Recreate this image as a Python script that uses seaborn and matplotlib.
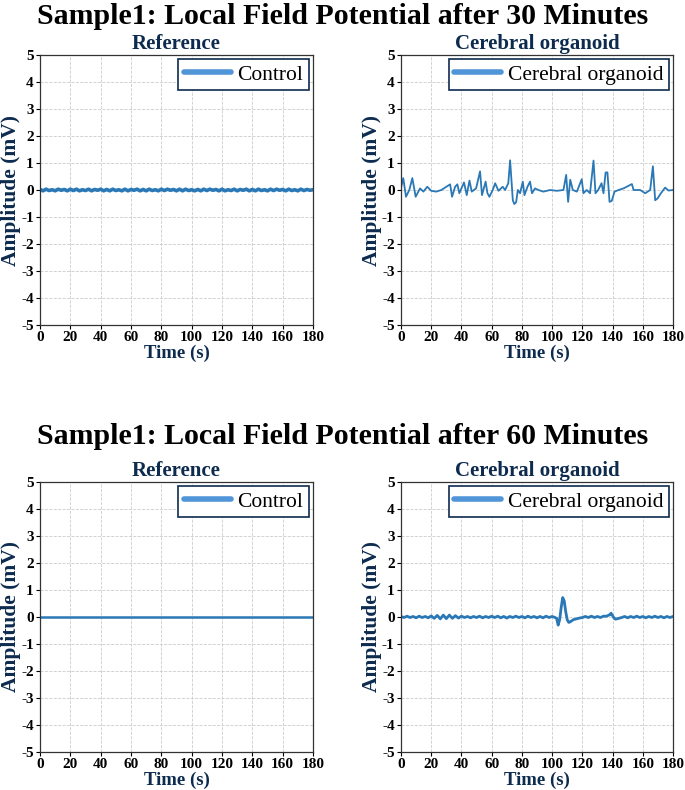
import numpy as np
import pandas as pd
import matplotlib.pyplot as plt
import seaborn as sns
from matplotlib.lines import Line2D

# ---- data ----
# 30 minutes, control (reference electrode), 2 s sampling
ctrl30_time = np.arange(0, 181, 2)
ctrl30_amp = [0.02, -0.03, 0.03, -0.02, 0.01, -0.03, 0.03, -0.01, 0.02, -0.03,
              0.03, -0.02, 0.03, -0.03, 0.01, -0.02, 0.03, -0.03, 0.02, -0.01,
              0.03, -0.03, 0.02, -0.03, 0.03, -0.02, 0.01, -0.03, 0.03, -0.03,
              0.02, -0.01, 0.03, -0.03, 0.02, -0.03, 0.03, -0.02, 0.01, -0.03,
              0.03, -0.02, 0.03, -0.01, 0.02, -0.03, 0.03, -0.03, 0.03, -0.02,
              0.01, -0.03, 0.02, -0.03, 0.03, -0.02, 0.03, -0.01, 0.02, -0.03,
              0.03, -0.03, 0.01, -0.02, 0.03, -0.03, 0.02, -0.01, 0.03, -0.03,
              0.02, -0.03, 0.03, -0.02, 0.01, -0.03, 0.03, -0.02, 0.03, -0.01,
              0.02, -0.03, 0.03, -0.02, 0.01, -0.03, 0.03, -0.02, 0.02, -0.01,
              0.01]

# 30 minutes, cerebral organoid
org30_time = [0, 1.5, 3.3, 5.5, 7.5, 9.7, 12.6, 14.8, 17.4, 20, 23.3, 26.7,
              32.5, 33.8, 35.8, 37.3, 38.6, 41.7, 43.5, 45.3, 46.8, 49.7,
              52.3, 53.6, 56, 57.2, 58.5, 60.7, 62.3, 64.5, 67.3, 68.9, 71,
              72.2, 74, 75, 76.2, 77.3, 78.8, 80.6, 81.7, 83.7, 85.4, 86.7,
              88.7, 90.9, 94.2, 98.7, 103.1, 107.5, 109.3, 110.6, 112, 113.7,
              116.4, 119.6, 120.7, 122.9, 125.1, 127.4, 128.7, 130.5, 132.7,
              134, 135.4, 136.6, 138, 139.5, 141.3, 144, 147.3, 152.8, 153.9,
              158.3, 161.6, 164.9, 166.7, 168.2, 169.8, 172, 174.8, 177, 180]
org30_amp = [0.08, 0.44, -0.25, 0.0, 0.44, -0.25, 0.06, -0.06, 0.12, -0.03,
             -0.06, 0.0, 0.21, -0.25, 0.12, 0.21, -0.12, 0.28, -0.19, 0.35,
             -0.06, 0.06, 0.69, -0.19, 0.31, -0.12, -0.25, 0.0, 0.25, -0.03,
             0.12, 0.0, 0.25, 1.1, -0.38, -0.52, -0.45, 0.0, -0.12, 0.31,
             -0.19, 0.12, 0.31, -0.12, 0.06, 0.0, -0.06, 0.0, -0.03, 0.0,
             0.56, -0.44, 0.38, 0.0, -0.06, 0.4, -0.12, 0.0, -0.12, 1.09,
             -0.12, 0.0, 0.25, -0.12, 0.65, 0.65, -0.44, -0.40, -0.06, 0.0,
             0.06, 0.22, 0.0, 0.0, -0.12, 0.0, 0.88, -0.38, -0.31, -0.12,
             0.09, -0.02, 0.0]

# 60 minutes, control: essentially flat
ctrl60_time = [0, 30, 60, 90, 120, 150, 180]
ctrl60_amp = [0.0, 0.0, 0.0, 0.0, 0.0, 0.0, 0.0]

# 60 minutes, cerebral organoid
org60_time = (list(np.arange(0, 103, 2))
              + [103, 104, 105, 106, 107, 108, 109, 110, 111, 112, 113, 114,
                 116, 118, 120]
              + list(np.arange(122, 137, 2))
              + [138, 139, 140, 141, 142, 144, 146]
              + list(np.arange(148, 181, 2)))
org60_amp = ([0.02, -0.02, 0.03, -0.02, 0.02, -0.03, 0.03, -0.02, 0.02, -0.03,
              0.04, -0.05, 0.06, -0.07, 0.07, -0.06, 0.07, -0.05, 0.05, -0.04,
              0.03, -0.02, 0.02, -0.03, 0.02, -0.02, 0.03, -0.03, 0.02, -0.02,
              0.03, -0.02, 0.03, -0.03, 0.02, -0.04, 0.02, -0.02, 0.03, -0.02,
              0.02, -0.03, 0.03, -0.02, 0.02, -0.03, 0.02, -0.03, 0.03, -0.02,
              0.02, -0.02]
             + [-0.05, -0.30, -0.10, 0.35, 0.72, 0.60, 0.20, -0.10, -0.20,
                -0.18, -0.14, -0.10, -0.07, -0.04, -0.02]
             + [0.02, -0.02, 0.03, -0.02, 0.02, -0.02, 0.03, 0.03]
             + [0.08, 0.14, 0.05, -0.04, -0.08, -0.05, -0.02]
             + [0.02, -0.03, 0.02, -0.02, 0.03, -0.02, 0.02, -0.03, 0.02,
                -0.02, 0.03, -0.02, 0.02, -0.03, 0.02, -0.02, 0.02])

titles = ["Sample1: Local Field Potential after 30 Minutes",
          "Sample1: Local Field Potential after 60 Minutes"]
panel_titles = ["Reference", "Cerebral organoid"]
legend_labels = ["Control", "Cerebral organoid"]

# ---- style ----
sns.set_style("ticks")
plt.rcParams['font.family'] = ['Liberation Serif', 'DejaVu Serif']
plt.rcParams['axes.unicode_minus'] = False

navy = '#0d2b4e'
line_color = '#2a78b6'
handle_color = '#4f95d8'

fig = plt.figure(figsize=(6.85, 7.9), dpi=100)
W, H = 685, 790


def make_ax(left, top, right, bottom):
    return fig.add_axes([left / W, 1 - bottom / H, (right - left) / W, (bottom - top) / H])


panels = [
    (make_ax(40, 55, 313, 325), ctrl30_time, ctrl30_amp, 0, 2.6),
    (make_ax(401, 55, 673, 325), org30_time, org30_amp, 1, 1.3),
    (make_ax(40, 482, 313, 752), ctrl60_time, ctrl60_amp, 0, 1.8),
    (make_ax(401, 482, 673, 752), org60_time, org60_amp, 1, 2.0),
]

for ax, t, a, k, lw in panels:
    df = pd.DataFrame({'Time (s)': t, 'Amplitude (mV)': a})
    sns.lineplot(data=df, x='Time (s)', y='Amplitude (mV)', ax=ax,
                 color=line_color, lw=lw, estimator=None, legend=False)
    ax.set_xlim(0, 180)
    ax.set_ylim(-5, 5)
    ax.set_xticks(range(0, 181, 20))
    ax.set_yticks(range(-5, 6))
    ax.grid(True, ls='--', lw=0.6, color='#cccccc')
    for s in ax.spines.values():
        s.set_visible(True)
        s.set_color('#333333')
        s.set_linewidth(0.9)
    ax.tick_params(length=3, width=0.8, pad=1.5, labelsize=11,
                   colors='black')
    for lab in ax.get_xticklabels() + ax.get_yticklabels():
        lab.set_fontweight('bold')
    ax.set_title(panel_titles[k], fontsize=15, fontweight='bold', color=navy, pad=4)
    ax.set_xlabel('Time (s)', fontsize=13.5, fontweight='bold', color=navy, labelpad=0)
    ax.set_ylabel('Amplitude (mV)', fontsize=15.5, fontweight='bold', color=navy, labelpad=0)
    handle = Line2D([], [], color=handle_color, lw=4)
    leg = ax.legend([handle], [legend_labels[k]], loc='upper right', fontsize=15.5,
                    fancybox=False, framealpha=1, edgecolor=navy,
                    handlelength=2.2, handletextpad=0.3, borderpad=0.25,
                    borderaxespad=0.2, labelcolor='black')
    leg.get_frame().set_linewidth(1.2)

fig.text(0.5, 1 - 16 / H, titles[0], ha='center', va='center',
         fontsize=21.5, fontweight='bold', color='black')
fig.text(0.5, 1 - 437 / H, titles[1], ha='center', va='center',
         fontsize=21.5, fontweight='bold', color='black')

fig.savefig('out.png', dpi=100)
